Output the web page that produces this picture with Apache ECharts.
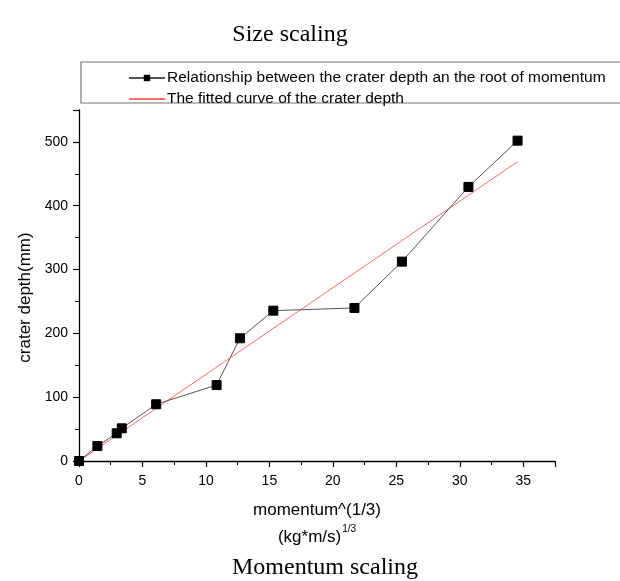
<!DOCTYPE html>
<html>
<head>
<meta charset="utf-8">
<script src="https://cdn.jsdelivr.net/npm/echarts@6/dist/echarts.min.js"></script>
<style>html,body{margin:0;padding:0;background:#fff}#c{width:620px;height:581px}</style>
</head>
<body>
<div id="c"></div>
<script>
const momentumRoot = [0, 1.45, 2.97, 3.37, 6.08, 10.84, 12.68, 15.31, 21.7, 25.44, 30.68, 34.55];
const craterDepth = [0, 23.5, 43.4, 51.2, 88.9, 119, 192.3, 235.6, 239.8, 312.4, 429.5, 502];
const fitX = [0, 34.55];
const fitY = [0, 469];
const seriesNames = ['Relationship between the crater depth an the root of momentum', 'The fitted curve of the crater depth'];
const titleTop = 'Size scaling';
const titleBottom = 'Momentum scaling';
const xName1 = 'momentum^(1/3)';
const xName2 = '(kg*m/s)';
const xNameSup = '1/3';
const yName = 'crater depth(mm)';

const chart = echarts.init(document.getElementById('c'), null, {renderer: 'canvas'});
const font = 'Liberation Sans, Arial, sans-serif';
const serif = 'Liberation Serif, Times New Roman, serif';
chart.setOption({
  animation: false,
  backgroundColor: '#fff',
  title: [
    {text: titleTop, left: 285, top: 18, textAlign: 'center',
     textStyle: {fontFamily: serif, fontSize: 24, fontWeight: 'normal', color: '#000'}},
    {text: titleBottom, left: 320, top: 551, textAlign: 'center',
     textStyle: {fontFamily: serif, fontSize: 24, fontWeight: 'normal', color: '#000'}}
  ],
  graphic: [
    {type: 'rect', shape: {x: 81, y: 62, width: 560, height: 41},
     style: {fill: 'none', stroke: '#777', lineWidth: 1.2}, z: 0}
  ],
  legend: {
    orient: 'vertical', left: 123, top: 65, itemGap: 5, itemWidth: 36, itemHeight: 8,
    textStyle: {fontFamily: font, fontSize: 15.5, color: '#000', padding: [0, 0, 0, -3]},
    data: [
      {name: seriesNames[0]},
      {name: seriesNames[1], itemStyle: {opacity: 0}}
    ]
  },
  grid: {left: 79, top: 110, right: 65, bottom: 120, containLabel: false},
  xAxis: {
    type: 'value', min: 0, max: 37.5, interval: 5,
    name: '{a|' + xName1 + '}\n{a|' + xName2 + '}{s|' + xNameSup + '}',
    nameLocation: 'middle', nameGap: 36,
    nameTextStyle: {
      rich: {
        a: {fontFamily: font, fontSize: 17, color: '#000', lineHeight: 27},
        s: {fontFamily: font, fontSize: 10, color: '#000', lineHeight: 27, verticalAlign: 'top', padding: [0, 0, 10, 1]}
      }
    },
    axisLine: {onZero: false, lineStyle: {color: '#000', width: 1.3}},
    axisTick: {show: true, inside: false, length: 6, lineStyle: {color: '#000', width: 1.2}},
    minorTick: {show: true, splitNumber: 2, length: 4, lineStyle: {color: '#000', width: 1}},
    axisLabel: {fontFamily: font, fontSize: 14, color: '#000', margin: 13,
      formatter: v => (v % 5 === 0 ? String(v) : '')},
    splitLine: {show: false}
  },
  yAxis: {
    type: 'value', min: 0, max: 550, interval: 100,
    name: yName, nameLocation: 'middle', nameGap: 35,
    nameTextStyle: {fontFamily: font, fontSize: 17, color: '#000', padding: [0, 24, 0, 0]},
    axisLine: {onZero: false, lineStyle: {color: '#000', width: 1.3}},
    axisTick: {show: true, inside: false, length: 6, lineStyle: {color: '#000', width: 1.2}},
    minorTick: {show: true, splitNumber: 2, length: 4, lineStyle: {color: '#000', width: 1}},
    axisLabel: {fontFamily: font, fontSize: 14, color: '#000', margin: 11,
      formatter: v => (v % 100 === 0 ? String(v) : '')},
    splitLine: {show: false}
  },
  series: [
    {
      name: seriesNames[0], type: 'line',
      data: momentumRoot.map((x, i) => [x, craterDepth[i]]),
      symbol: 'rect', symbolSize: 9,
      lineStyle: {color: '#555', width: 1},
      itemStyle: {color: '#000', borderColor: '#000'},
      z: 3
    },
    {
      name: seriesNames[1], type: 'line',
      data: fitX.map((x, i) => [x, fitY[i]]),
      symbol: 'none', showSymbol: false,
      lineStyle: {color: '#ff6a6a', width: 1},
      itemStyle: {color: '#ff6a6a'},
      z: 2
    }
  ]
});
</script>
</body>
</html>
